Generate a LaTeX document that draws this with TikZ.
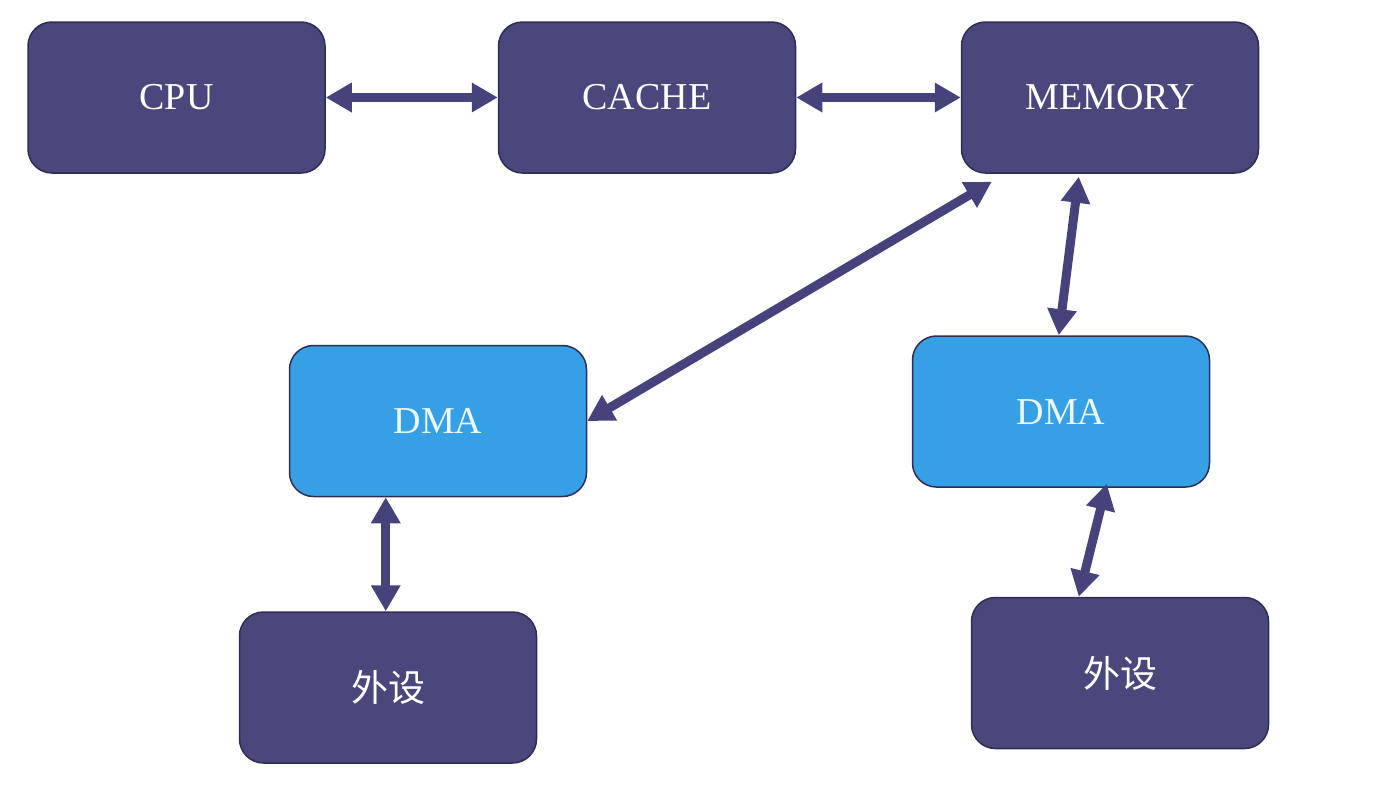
\documentclass[tikz,border=0pt]{standalone}
\usepackage{fontspec}
\setmainfont{Liberation Serif}
\newfontfamily\cjk{Noto Sans CJK SC}
\usetikzlibrary{arrows.meta,calc}
\definecolor{boxdark}{HTML}{4A477D}
\definecolor{boxlight}{HTML}{35A0E6}
\definecolor{boxedge}{HTML}{2F2D52}
\definecolor{arrowc}{HTML}{46437C}
\tikzset{
  box/.style={draw=boxedge, line width=1.5pt, rounded corners=24pt,
    minimum width=297pt, minimum height=151pt, inner sep=0pt,
    text=white, font=\fontsize{38}{42}\selectfont},
  darkbox/.style={box, fill=boxdark},
  lightbox/.style={box, fill=boxlight, text=white!92!cyan},
  cjkbox/.style={darkbox, font=\cjk\fontsize{37}{42}\selectfont},
  link/.style={draw=arrowc, line width=9pt,
    {Triangle[length=26pt,width=28pt]}-{Triangle[length=26pt,width=28pt]}},
}
\begin{document}
\begin{tikzpicture}[x=1pt,y=-1pt]
\useasboundingbox (0,0) rectangle (1386,798);
\node[darkbox] (cpu) at (176.5,97.5) {CPU};
\node[darkbox] (cache) at (647,97.5) {CACHE};
\node[darkbox] (mem) at (1110,97.5) {MEMORY};
\node[lightbox] (dmal) at (438,421) {DMA};
\node[lightbox] (dmar) at (1061,411.5) {DMA};
\node[cjkbox] (pl) at (388,687.5) {外设};
\node[cjkbox] (pr) at (1120,673) {外设};
\draw[link] (cpu.east) -- (cache.west);
\draw[link] (cache.east) -- (mem.west);
\draw[link] ($(mem.south west)+(31,8)$) -- (dmal.east);
\draw[link] ($(mem.south west)+(118,3)$) -- ($(dmar.north west)+(147,0)$);
\draw[link] ($(dmal.south west)+(97,0)$) -- ($(pl.north west)+(147,0)$);
\draw[link] ($(dmar.south west)+(195,-4)$) -- ($(pr.north west)+(108,0)$);
\end{tikzpicture}
\end{document}
